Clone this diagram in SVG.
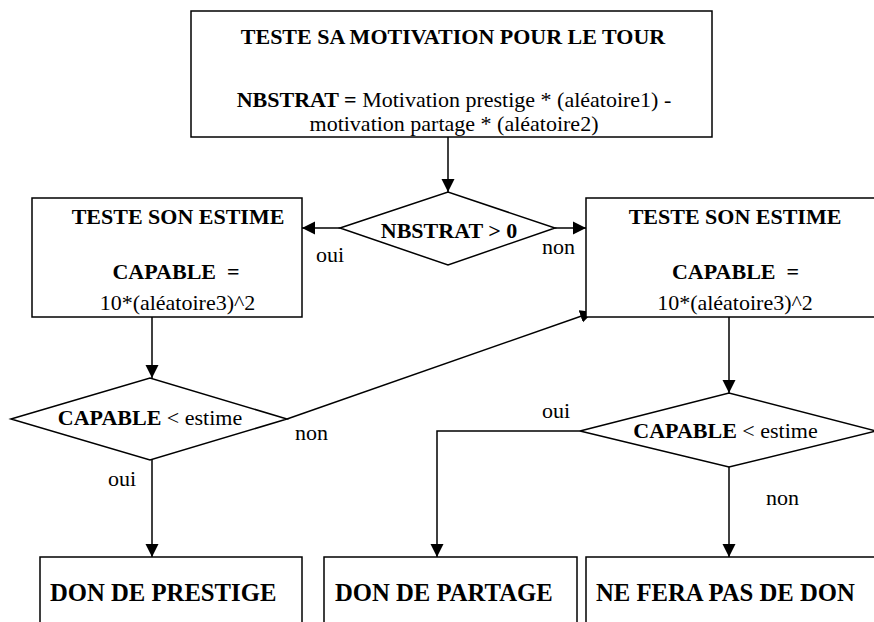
<svg xmlns="http://www.w3.org/2000/svg" width="874" height="622" viewBox="0 0 874 622" font-family="'Liberation Serif', 'Times New Roman', Times, serif">
<style>
.box{fill:#fff;stroke:#000;stroke-width:1.5}
.ln{fill:none;stroke:#000;stroke-width:1.5}
text{font-family:'Liberation Serif','Times New Roman',Times,serif;fill:#000}
.b{font-weight:bold}
.t22{font-size:22px}
.big{font-size:24.7px;font-weight:bold}
</style>
<defs>
<marker id="ah" markerUnits="userSpaceOnUse" markerWidth="14" markerHeight="14" viewBox="0 0 14 14" refX="13" refY="7" orient="auto">
<path d="M0,0.5 L13,7 L0,13.5 z" fill="#000"/>
</marker>
</defs>
<rect width="874" height="622" fill="#fff"/>
<g id="connectors">
<line class="ln" x1="448" y1="137" x2="448" y2="192" marker-end="url(#ah)"/>
<line class="ln" x1="340" y1="228" x2="302" y2="228" marker-end="url(#ah)"/>
<line class="ln" x1="555" y1="228" x2="586" y2="228" marker-end="url(#ah)"/>
<line class="ln" x1="152" y1="317" x2="152" y2="378" marker-end="url(#ah)"/>
<line class="ln" x1="729" y1="317" x2="729" y2="393" marker-end="url(#ah)"/>
<line class="ln" x1="287" y1="419" x2="593" y2="312" marker-end="url(#ah)"/>
<line class="ln" x1="152" y1="460" x2="152" y2="557" marker-end="url(#ah)"/>
<polyline class="ln" points="580,431 437,431 437,557" marker-end="url(#ah)"/>
<line class="ln" x1="729" y1="467" x2="729" y2="557" marker-end="url(#ah)"/>
<text class="t22" x="316" y="262">oui</text>
<text class="t22" x="542" y="254">non</text>
<text class="t22" x="295" y="440">non</text>
<text class="t22" x="108" y="486">oui</text>
<text class="t22" x="542" y="418">oui</text>
<text class="t22" x="766" y="505">non</text>
</g>
<g id="top">
<rect class="box" x="191" y="11" width="521" height="126"/>
<text class="t22 b" x="453" y="44" text-anchor="middle">TESTE SA MOTIVATION POUR LE TOUR</text>
<text class="t22" x="454" y="107" text-anchor="middle"><tspan class="b">NBSTRAT =</tspan> Motivation prestige * (aléatoire1) -</text>
<text class="t22" x="454" y="131" text-anchor="middle">motivation partage * (aléatoire2)</text>
</g>
<g id="d-nbstrat">
<polygon class="box" points="340,228 448,192 555,228 448,265"/>
<text class="t22 b" x="449" y="238" text-anchor="middle">NBSTRAT &gt; 0</text>
</g>
<g id="estime-left">
<rect class="box" x="32" y="198" width="270" height="119"/>
<text class="t22 b" x="178" y="224" text-anchor="middle">TESTE SON ESTIME</text>
<text class="t22 b" x="176" y="279" text-anchor="middle" xml:space="preserve">CAPABLE  =</text>
<text class="t22" x="177.5" y="310" text-anchor="middle">10*(aléatoire3)^2</text>
</g>
<g id="estime-right">
<rect class="box" x="586" y="198" width="300" height="119"/>
<text class="t22 b" x="735" y="224" text-anchor="middle">TESTE SON ESTIME</text>
<text class="t22 b" x="735.5" y="279" text-anchor="middle" xml:space="preserve">CAPABLE  =</text>
<text class="t22" x="735" y="310" text-anchor="middle">10*(aléatoire3)^2</text>
</g>
<g id="d-left">
<polygon class="box" points="11,419 150,378 287,419 150,460"/>
<text class="t22" x="150" y="425" text-anchor="middle"><tspan class="b">CAPABLE</tspan> &lt; estime</text>
</g>
<g id="d-right">
<polygon class="box" points="580,431 729,393 876,431 729,467"/>
<text class="t22" x="725.5" y="438" text-anchor="middle"><tspan class="b">CAPABLE</tspan> &lt; estime</text>
</g>
<g id="don-prestige">
<rect class="box" x="40" y="557" width="262" height="90"/>
<text class="big" x="50" y="601">DON DE PRESTIGE</text>
</g>
<g id="don-partage">
<rect class="box" x="324" y="557" width="253" height="90"/>
<text class="big" x="335" y="601">DON DE PARTAGE</text>
</g>
<g id="pas-de-don">
<rect class="box" x="586" y="557" width="300" height="90"/>
<text class="big" x="596" y="601">NE FERA PAS DE DON</text>
</g>
</svg>
